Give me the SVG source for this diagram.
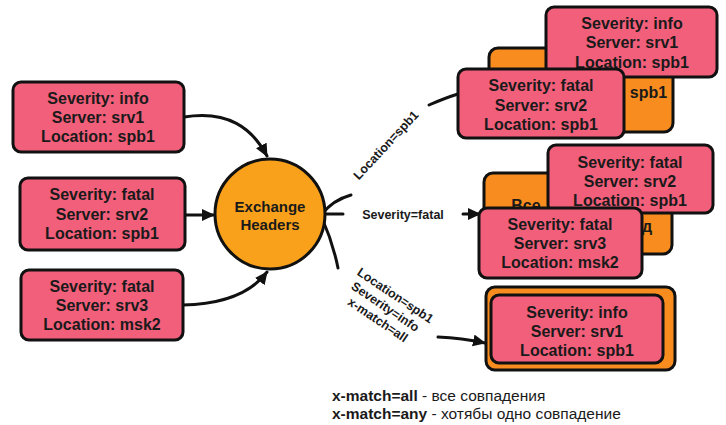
<svg xmlns="http://www.w3.org/2000/svg" width="726" height="425" viewBox="0 0 726 425">
<style>
.pink{fill:#f25f7a;stroke:#111;stroke-width:3}
.orange{fill:#f98c1f;stroke:#111;stroke-width:3}
.t{font-family:"Liberation Sans",Arial,sans-serif;font-weight:700;font-size:16px;fill:#1a1a1a;text-anchor:middle}
.lbl{font-family:"Liberation Sans",Arial,sans-serif;font-weight:700;font-size:12.5px;fill:#1a1a1a;text-anchor:middle}
.leg{font-family:"Liberation Sans",Arial,sans-serif;font-size:15.5px;fill:#1a1a1a}
.c{fill:none;stroke:#111;stroke-width:3;stroke-linecap:round}
</style>
<defs>
<marker id="ah" markerUnits="userSpaceOnUse" markerWidth="14" markerHeight="14" refX="12" refY="6" orient="auto">
<path d="M0,0 L13,6 L0,12 z" fill="#111"/>
</marker>
</defs>

<g id="connectors">
<path class="c" d="M184,117 C228,110 252,128 267,156" marker-end="url(#ah)"/>
<path class="c" d="M185,215 L214,215" marker-end="url(#ah)"/>
<path class="c" d="M183,305 C226,304 252,292 267,272" marker-end="url(#ah)"/>
<path class="c" d="M322,214 Q333,200 351,195"/>
<path class="c" d="M429,105 Q445,98 458,94"/>
<path class="c" d="M322,214 L343,214"/>
<path class="c" d="M463,214 L480,214" marker-end="url(#ah)"/>
<path class="c" d="M322,218 Q333,243 338,268"/>
<path class="c" d="M438,337 Q462,338 485,343" marker-end="url(#ah)"/>
<text class="lbl" transform="translate(389,148) rotate(-47)">Location=spb1</text>
<text class="lbl" x="403" y="219">Severity=fatal</text>
<g transform="translate(393,299) rotate(34)">
<text class="lbl" x="0" y="0">Location=spb1</text>
<text class="lbl" x="-2" y="15">Severity=info</text>
<text class="lbl" x="-1" y="30">x-match=all</text>
</g>
</g>

<g id="in1">
<rect class="pink" x="13" y="82" width="171" height="70" rx="8"/>
<text class="t" x="98" y="104">Severity: info</text>
<text class="t" x="98" y="123">Server: srv1</text>
<text class="t" x="98" y="142">Location: spb1</text>
</g>
<g id="in2">
<rect class="pink" x="20" y="178" width="165" height="72" rx="8"/>
<text class="t" x="102" y="200">Severity: fatal</text>
<text class="t" x="102" y="220">Server: srv2</text>
<text class="t" x="102" y="239">Location: spb1</text>
</g>
<g id="in3">
<rect class="pink" x="21" y="270" width="162" height="70" rx="8"/>
<text class="t" x="102" y="292">Severity: fatal</text>
<text class="t" x="102" y="311">Server: srv3</text>
<text class="t" x="102" y="330">Location: msk2</text>
</g>

<g id="exchange">
<circle cx="270" cy="214" r="55" fill="#f9a11b" stroke="#111" stroke-width="3"/>
<text class="t" x="270" y="212" style="font-size:15px">Exchange</text>
<text class="t" x="270" y="230" style="font-size:15px">Headers</text>
</g>

<g id="queue1">
<rect class="orange" x="489" y="48" width="184" height="84" rx="9"/>
<text class="t" x="644" y="98">, spb1</text>
<rect class="pink" x="546" y="7" width="171" height="70" rx="8"/>
<text class="t" x="632" y="29">Severity: info</text>
<text class="t" x="632" y="48">Server: srv1</text>
<text class="t" x="632" y="68">Location: spb1</text>
<rect class="pink" x="458" y="69" width="166" height="69" rx="8"/>
<text class="t" x="541" y="91">Severity: fatal</text>
<text class="t" x="541" y="111">Server: srv2</text>
<text class="t" x="541" y="130">Location: spb1</text>
</g>

<g id="queue2">
<rect class="orange" x="484" y="173" width="188" height="81" rx="9"/>
<text class="t" x="526" y="211">Все</text>
<text class="t" x="647" y="232">д</text>
<rect class="pink" x="548" y="145" width="165" height="68" rx="8"/>
<text class="t" x="630" y="168">Severity: fatal</text>
<text class="t" x="630" y="187">Server: srv2</text>
<text class="t" x="630" y="206">Location: spb1</text>
<rect class="pink" x="479" y="208" width="163" height="70" rx="8"/>
<text class="t" x="560" y="230">Severity: fatal</text>
<text class="t" x="560" y="249">Server: srv3</text>
<text class="t" x="560" y="268">Location: msk2</text>
</g>

<g id="queue3">
<rect class="orange" x="486" y="287" width="189" height="83" rx="9"/>
<rect class="pink" x="491" y="295" width="172" height="68" rx="8"/>
<text class="t" x="577" y="318">Severity: info</text>
<text class="t" x="577" y="337">Server: srv1</text>
<text class="t" x="577" y="356">Location: spb1</text>
</g>

<g id="legend">
<text class="leg" x="332" y="401"><tspan font-weight="700">x-match=all</tspan> - все совпадения</text>
<text class="leg" x="332" y="419"><tspan font-weight="700">x-match=any</tspan> - хотябы одно совпадение</text>
</g>
</svg>
